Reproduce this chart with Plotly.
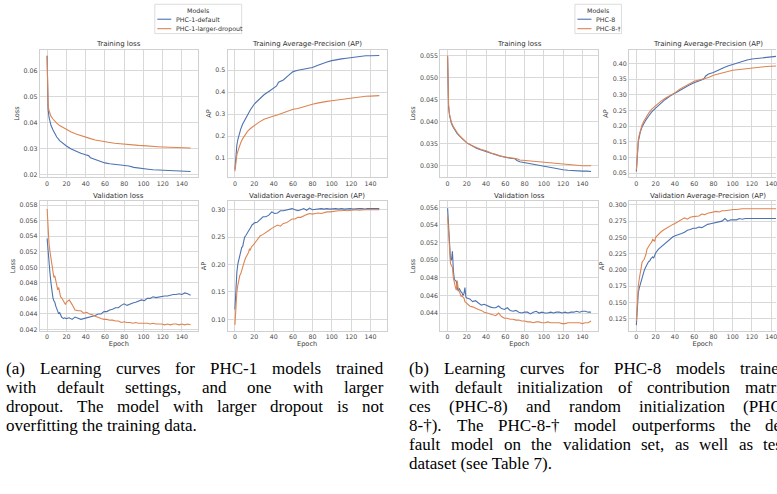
import plotly.graph_objects as go

# ---------------------------------------------------------------- data
MODELS_A = ["PHC-1-default", "PHC-1-larger-dropout"]
MODELS_B = ["PHC-8", "PHC-8-\u2020"]

X_TICKS = [0, 20, 40, 60, 80, 100, 120, 140]

EPOCHS_A_TRAIN = [0, 1, 2, 3, 4, 6, 8, 10, 13, 16, 20, 25, 30, 35, 40, 43, 45, 50, 55, 60,
                  65, 70, 75, 80, 85, 90, 95, 100, 105, 110, 115, 120, 125, 130, 135, 140, 145, 149]
EPOCHS_B_TRAIN = [0, 1, 2, 3, 4, 6, 8, 10, 13, 16, 20, 25, 30, 35, 40, 45, 50, 55, 60, 65,
                  70, 72, 75, 80, 85, 90, 95, 100, 105, 110, 115, 120, 125, 130, 135, 140, 145, 149]
EPOCHS_VAL = list(range(0, 21)) + list(range(23, 150, 3))

# (a) PHC-1
A_TRAIN_LOSS_DEFAULT = [0.0655, 0.0452, 0.0420, 0.0402, 0.0390, 0.0373, 0.0359, 0.0345, 0.0331, 0.0321,
                        0.0311, 0.0299, 0.0290, 0.0283, 0.0277, 0.0274, 0.0266, 0.0259, 0.0251, 0.0246,
                        0.0243, 0.0241, 0.0239, 0.0237, 0.0234, 0.0229, 0.0226, 0.0224, 0.0222, 0.0220,
                        0.0219, 0.0218, 0.0216, 0.0215, 0.0215, 0.0214, 0.0214, 0.0213]
A_TRAIN_LOSS_DROPOUT = [0.0657, 0.0464, 0.0446, 0.0433, 0.0425, 0.0414, 0.0405, 0.0398, 0.0389, 0.0382,
                        0.0373, 0.0364, 0.0357, 0.0350, 0.0344, 0.0341, 0.0339, 0.0334, 0.0330, 0.0327,
                        0.0324, 0.0321, 0.0319, 0.0317, 0.0316, 0.0314, 0.0313, 0.0312, 0.0310, 0.0309,
                        0.0308, 0.0307, 0.0306, 0.0305, 0.0305, 0.0304, 0.0303, 0.0303]
A_TRAIN_AP_DEFAULT = [0.050, 0.120, 0.160, 0.185, 0.203, 0.232, 0.255, 0.272, 0.298, 0.320,
                      0.346, 0.369, 0.388, 0.403, 0.418, 0.428, 0.445, 0.455, 0.475, 0.493,
                      0.499, 0.504, 0.508, 0.512, 0.521, 0.530, 0.537, 0.543, 0.548, 0.551,
                      0.554, 0.557, 0.560, 0.564, 0.565, 0.565, 0.566, 0.566]
A_TRAIN_AP_DROPOUT = [0.041, 0.090, 0.115, 0.131, 0.145, 0.170, 0.189, 0.204, 0.222, 0.235,
                      0.249, 0.264, 0.277, 0.286, 0.292, 0.295, 0.298, 0.306, 0.316, 0.322,
                      0.326, 0.333, 0.339, 0.345, 0.350, 0.355, 0.358, 0.361, 0.364, 0.367,
                      0.371, 0.375, 0.377, 0.379, 0.381, 0.382, 0.384, 0.384]
A_VAL_LOSS_DEFAULT = [0.0537, 0.0517, 0.0505, 0.0492, 0.0480, 0.0466, 0.0461, 0.0457, 0.0455, 0.0450,
                      0.0447, 0.0442, 0.0440, 0.0442, 0.0437, 0.0436, 0.0435, 0.0434, 0.0435, 0.0434,
                      0.0434,
                      0.0435, 0.0433, 0.0436, 0.0434, 0.0433, 0.0434, 0.0435, 0.0436, 0.0437, 0.0438,
                      0.0440, 0.0440, 0.0443, 0.0443, 0.0445, 0.0446, 0.0448, 0.0448, 0.0451, 0.0453,
                      0.0451, 0.0453, 0.0454, 0.0455, 0.0456, 0.0458, 0.0457, 0.0460, 0.0460, 0.0462,
                      0.0461, 0.0462, 0.0462, 0.0463, 0.0463, 0.0464, 0.0465, 0.0465, 0.0466, 0.0465,
                      0.0467, 0.0466, 0.0464]
A_VAL_LOSS_DROPOUT = [0.0575, 0.0546, 0.0530, 0.0520, 0.0512, 0.0504, 0.0496, 0.0487, 0.0489, 0.0481,
                      0.0477, 0.0471, 0.0474, 0.0466, 0.0462, 0.0461, 0.0459, 0.0456, 0.0454, 0.0452,
                      0.0455,
                      0.0458, 0.0452, 0.0445, 0.0444, 0.0444, 0.0441, 0.0442, 0.0440, 0.0439, 0.0437,
                      0.0435, 0.0434, 0.0433, 0.0433, 0.0432, 0.0432, 0.0431, 0.0431, 0.0429, 0.0430,
                      0.0429, 0.0429, 0.0428, 0.0429, 0.0428, 0.0428, 0.0428, 0.0428, 0.0427, 0.0428,
                      0.0427, 0.0427, 0.0427, 0.0426, 0.0427, 0.0426, 0.0427, 0.0427, 0.0426, 0.0427,
                      0.0426, 0.0427, 0.0426]
A_VAL_AP_DEFAULT = [0.118, 0.158, 0.186, 0.201, 0.210, 0.219, 0.228, 0.231, 0.233, 0.244,
                    0.250, 0.252, 0.256, 0.259, 0.261, 0.264, 0.268, 0.270, 0.273, 0.274,
                    0.276,
                    0.277, 0.283, 0.287, 0.287, 0.290, 0.296, 0.293, 0.294, 0.298, 0.298,
                    0.299, 0.300, 0.302, 0.300, 0.298, 0.300, 0.302, 0.299, 0.303, 0.300,
                    0.301, 0.301, 0.302, 0.301, 0.302, 0.301, 0.302, 0.302, 0.301, 0.302,
                    0.301, 0.302, 0.302, 0.301, 0.302, 0.302, 0.302, 0.301, 0.302, 0.302,
                    0.301, 0.302, 0.302]
A_VAL_AP_DROPOUT = [0.090, 0.128, 0.150, 0.162, 0.175, 0.180, 0.183, 0.190, 0.195, 0.205,
                    0.207, 0.212, 0.215, 0.218, 0.222, 0.228, 0.227, 0.232, 0.235, 0.236,
                    0.238,
                    0.245, 0.252, 0.255, 0.258, 0.262, 0.266, 0.269, 0.272, 0.270, 0.275,
                    0.276, 0.280, 0.283, 0.283, 0.286, 0.286, 0.289, 0.291, 0.293, 0.292,
                    0.293, 0.294, 0.293, 0.295, 0.296, 0.296, 0.297, 0.297, 0.298, 0.298,
                    0.299, 0.298, 0.299, 0.299, 0.300, 0.299, 0.300, 0.300, 0.300, 0.300,
                    0.300, 0.299, 0.300]

# (b) PHC-8
B_TRAIN_LOSS_DEFAULT = [0.0548, 0.0433, 0.0414, 0.0403, 0.0396, 0.0387, 0.0379, 0.0373, 0.0366, 0.0360,
                        0.0352, 0.0346, 0.0340, 0.0336, 0.0332, 0.0328, 0.0325, 0.0322, 0.0319, 0.0317,
                        0.0316, 0.0312, 0.0309, 0.0307, 0.0305, 0.0302, 0.0300, 0.0298, 0.0296, 0.0294,
                        0.0292, 0.0291, 0.0290, 0.0289, 0.0289, 0.0288, 0.0288, 0.0287]
B_TRAIN_LOSS_RANDOM = [0.0550, 0.0439, 0.0417, 0.0405, 0.0398, 0.0389, 0.0381, 0.0375, 0.0367, 0.0361,
                       0.0352, 0.0346, 0.0341, 0.0337, 0.0334, 0.0329, 0.0326, 0.0322, 0.0320, 0.0318,
                       0.0317, 0.0316, 0.0313, 0.0312, 0.0310, 0.0309, 0.0308, 0.0307, 0.0306, 0.0305,
                       0.0304, 0.0303, 0.0302, 0.0302, 0.0301, 0.0300, 0.0300, 0.0300]
B_TRAIN_AP_DEFAULT = [0.055, 0.125, 0.150, 0.165, 0.180, 0.198, 0.210, 0.220, 0.233, 0.245,
                      0.257, 0.272, 0.285, 0.296, 0.305, 0.315, 0.324, 0.331, 0.338, 0.345,
                      0.350, 0.360, 0.366, 0.371, 0.377, 0.385, 0.392, 0.397, 0.402, 0.407,
                      0.411, 0.414, 0.416, 0.419, 0.420, 0.421, 0.423, 0.424]
B_TRAIN_AP_RANDOM = [0.060, 0.130, 0.155, 0.172, 0.186, 0.204, 0.217, 0.228, 0.242, 0.254,
                     0.265, 0.278, 0.289, 0.298, 0.306, 0.318, 0.326, 0.334, 0.343, 0.347,
                     0.350, 0.352, 0.355, 0.362, 0.366, 0.371, 0.374, 0.378, 0.380, 0.382,
                     0.384, 0.386, 0.388, 0.389, 0.390, 0.391, 0.391, 0.392]
B_VAL_LOSS_DEFAULT = [0.0559, 0.0533, 0.0518, 0.0501, 0.0500, 0.0510, 0.0488, 0.0478, 0.0477, 0.0476,
                      0.0469, 0.0465, 0.0468, 0.0465, 0.0464, 0.0463, 0.0460, 0.0462, 0.0469, 0.0458,
                      0.0457,
                      0.0456, 0.0453, 0.0454, 0.0451, 0.0449, 0.0450, 0.0448, 0.0447, 0.0446, 0.0446,
                      0.0448, 0.0445, 0.0444, 0.0446, 0.0443, 0.0442, 0.0443, 0.0441, 0.0440, 0.0441,
                      0.0441, 0.0439, 0.0441, 0.0442, 0.0440, 0.0441, 0.0440, 0.0440, 0.0441, 0.0440,
                      0.0441, 0.0441, 0.0440, 0.0441, 0.0440, 0.0441, 0.0441, 0.0442, 0.0441, 0.0442,
                      0.0442, 0.0441, 0.0441]
B_VAL_LOSS_RANDOM = [0.0550, 0.0530, 0.0510, 0.0496, 0.0494, 0.0492, 0.0480, 0.0472, 0.0470, 0.0466,
                     0.0477, 0.0468, 0.0463, 0.0462, 0.0459, 0.0460, 0.0458, 0.0457, 0.0453, 0.0452,
                     0.0450,
                     0.0448, 0.0447, 0.0445, 0.0444, 0.0443, 0.0441, 0.0440, 0.0439, 0.0438, 0.0437,
                     0.0440, 0.0436, 0.0434, 0.0434, 0.0433, 0.0433, 0.0432, 0.0432, 0.0431, 0.0431,
                     0.0430, 0.0430, 0.0429, 0.0430, 0.0430, 0.0429, 0.0429, 0.0430, 0.0429, 0.0429,
                     0.0429, 0.0429, 0.0428, 0.0428, 0.0429, 0.0429, 0.0429, 0.0429, 0.0429, 0.0428,
                     0.0429, 0.0429, 0.0431]
B_VAL_AP_DEFAULT = [0.115, 0.148, 0.165, 0.172, 0.178, 0.184, 0.189, 0.193, 0.198, 0.202,
                    0.206, 0.208, 0.211, 0.213, 0.214, 0.217, 0.219, 0.220, 0.218, 0.224,
                    0.226,
                    0.232, 0.236, 0.240, 0.244, 0.247, 0.251, 0.253, 0.254, 0.256, 0.258,
                    0.261, 0.262, 0.264, 0.264, 0.266, 0.265, 0.268, 0.270, 0.271, 0.272,
                    0.273, 0.274, 0.275, 0.279, 0.275, 0.277, 0.277, 0.277, 0.279, 0.278,
                    0.279, 0.279, 0.280, 0.280, 0.280, 0.279, 0.280, 0.280, 0.280, 0.280,
                    0.280, 0.279, 0.279]
B_VAL_AP_RANDOM = [0.121, 0.160, 0.175, 0.186, 0.196, 0.205, 0.212, 0.214, 0.216, 0.220,
                   0.224, 0.232, 0.235, 0.236, 0.239, 0.241, 0.243, 0.247, 0.246, 0.244,
                   0.250,
                   0.255, 0.259, 0.262, 0.265, 0.267, 0.270, 0.272, 0.275, 0.277, 0.280,
                   0.278, 0.281, 0.282, 0.283, 0.283, 0.286, 0.285, 0.287, 0.288, 0.289,
                   0.290, 0.289, 0.291, 0.291, 0.292, 0.292, 0.293, 0.293, 0.294, 0.294,
                   0.294, 0.294, 0.295, 0.294, 0.295, 0.294, 0.294, 0.294, 0.295, 0.294,
                   0.294, 0.294, 0.294]

Y_TICKS_A_TRAIN_LOSS = [0.02, 0.03, 0.04, 0.05, 0.06]
Y_TICKS_A_TRAIN_AP = [0.1, 0.2, 0.3, 0.4, 0.5]
Y_TICKS_A_VAL_LOSS = [0.042, 0.044, 0.046, 0.048, 0.050, 0.052, 0.054, 0.056, 0.058]
Y_TICKS_A_VAL_AP = [0.10, 0.15, 0.20, 0.25, 0.30]
Y_TICKS_B_TRAIN_LOSS = [0.030, 0.035, 0.040, 0.045, 0.050, 0.055]
Y_TICKS_B_TRAIN_AP = [0.05, 0.10, 0.15, 0.20, 0.25, 0.30, 0.35, 0.40]
Y_TICKS_B_VAL_LOSS = [0.044, 0.046, 0.048, 0.050, 0.052, 0.054, 0.056]
Y_TICKS_B_VAL_AP = [0.125, 0.150, 0.175, 0.200, 0.225, 0.250, 0.275, 0.300]

CAPTION_A = [
    ("(a) Learning curves for PHC-1 models trained", True),
    ("with default settings, and one with larger", True),
    ("dropout. The model with larger dropout is not", True),
    ("overfitting the training data.", False),
]
CAPTION_B = [
    ("(b) Learning curves for PHC-8 models trained", True),
    ("with default initialization of contribution matri-", True),
    ("ces (PHC-8) and random initialization (PHC-", True),
    ("8-\u2020). The PHC-8-\u2020 model outperforms the de-", True),
    ("fault model on the validation set, as well as test", True),
    ("dataset (see Table 7).", False),
]

# ---------------------------------------------------------------- style
W, H = 777, 494
BLUE = "#4C72B0"
ORANGE = "#DD8452"
GRID = "#d9d9d9"
SPINE = "#d0d0d0"
SANS = "DejaVu Sans"
SERIF = "Liberation Serif"
TICK_FONT = dict(family=SANS, size=6.3, color="#4a4a4a")
LABEL_FONT = dict(family=SANS, size=6.6, color="#3a3a3a")
TITLE_FONT = dict(family=SANS, size=7, color="#303030")
X_RANGE = [-7.45, 156.45]


def fx(p):
    return p / W


def fy(p):
    return 1 - p / H


# panel geometry in pixels: (left, right, top, bottom); right column of (b) runs off the page
ROW_TOP = (50, 178)
ROW_BOT = (202, 332)
COLS = {"a_loss": (40, 198), "a_ap": (228, 387), "b_loss": (441, 599), "b_ap": (630, 788)}

PANELS = [
    ("a_loss", ROW_TOP, "Training loss", "Loss", [0.0191, 0.0679], Y_TICKS_A_TRAIN_LOSS, ".2f",
     EPOCHS_A_TRAIN, A_TRAIN_LOSS_DEFAULT, A_TRAIN_LOSS_DROPOUT, MODELS_A),
    ("a_ap", ROW_TOP, "Training Average-Precision (AP)", "AP", [0.0137, 0.592], Y_TICKS_A_TRAIN_AP, ".1f",
     EPOCHS_A_TRAIN, A_TRAIN_AP_DEFAULT, A_TRAIN_AP_DROPOUT, MODELS_A),
    ("a_loss", ROW_BOT, "Validation loss", "Loss", [0.04185, 0.0585], Y_TICKS_A_VAL_LOSS, ".3f",
     EPOCHS_VAL, A_VAL_LOSS_DEFAULT, A_VAL_LOSS_DROPOUT, MODELS_A),
    ("a_ap", ROW_BOT, "Validation Average-Precision (AP)", "AP", [0.0795, 0.3155], Y_TICKS_A_VAL_AP, ".2f",
     EPOCHS_VAL, A_VAL_AP_DEFAULT, A_VAL_AP_DROPOUT, MODELS_A),
    ("b_loss", ROW_TOP, "Training loss", "Loss", [0.0274, 0.0563], Y_TICKS_B_TRAIN_LOSS, ".3f",
     EPOCHS_B_TRAIN, B_TRAIN_LOSS_DEFAULT, B_TRAIN_LOSS_RANDOM, MODELS_B),
    ("b_ap", ROW_TOP, "Training Average-Precision (AP)", "AP", [0.0365, 0.4435], Y_TICKS_B_TRAIN_AP, ".2f",
     EPOCHS_B_TRAIN, B_TRAIN_AP_DEFAULT, B_TRAIN_AP_RANDOM, MODELS_B),
    ("b_loss", ROW_BOT, "Validation loss", "Loss", [0.0420, 0.0567], Y_TICKS_B_VAL_LOSS, ".3f",
     EPOCHS_VAL, B_VAL_LOSS_DEFAULT, B_VAL_LOSS_RANDOM, MODELS_B),
    ("b_ap", ROW_BOT, "Validation Average-Precision (AP)", "AP", [0.1065, 0.3057], Y_TICKS_B_VAL_AP, ".3f",
     EPOCHS_VAL, B_VAL_AP_DEFAULT, B_VAL_AP_RANDOM, MODELS_B),
]

fig = go.Figure()
layout = dict(
    width=W, height=H, margin=dict(l=0, r=0, t=0, b=0),
    paper_bgcolor="white", plot_bgcolor="white", showlegend=False,
    font=dict(family=SANS, size=7, color="#333"),
)
annotations = []
shapes = []

for i, (col, (top, bottom), title, ylabel, yrange, yticks, yfmt, epochs, s1, s2, names) in enumerate(PANELS, 1):
    left, right = COLS[col]
    clipped = right > W
    vis_right = min(right, W)
    # keep the data scale of the full-width panel while only the visible part fits on the page
    x_span = X_RANGE[1] - X_RANGE[0]
    x_range = [X_RANGE[0], X_RANGE[0] + x_span * (vis_right - left) / (right - left)]
    sfx = "" if i == 1 else str(i)
    layout["xaxis" + sfx] = dict(
        domain=[fx(left), fx(vis_right)], range=x_range, anchor="y" + sfx,
        tickvals=X_TICKS, ticks="", showgrid=True, gridcolor=GRID, gridwidth=1,
        zeroline=False, showline=True, linecolor=SPINE, linewidth=1.2, mirror=True,
        tickfont=TICK_FONT, ticklabeloverflow="allow",
        title=dict(text="Epoch" if top == ROW_BOT[0] else "", font=LABEL_FONT, standoff=1),
    )
    layout["yaxis" + sfx] = dict(
        domain=[fy(bottom), fy(top)], range=yrange, anchor="x" + sfx,
        tickvals=yticks, tickformat=yfmt, ticks="", showgrid=True, gridcolor=GRID, gridwidth=1,
        zeroline=False, showline=True, linecolor=SPINE, linewidth=1.2, mirror=not clipped,
        tickfont=TICK_FONT,
        title=dict(text=ylabel, font=LABEL_FONT, standoff=3),
    )
    for series, color, name in ((s1, BLUE, names[0]), (s2, ORANGE, names[1])):
        fig.add_trace(go.Scatter(
            x=epochs, y=series, mode="lines", name=name,
            line=dict(color=color, width=1.1),
            xaxis="x" + sfx, yaxis="y" + sfx, showlegend=False,
        ))
    annotations.append(dict(
        text=title, x=fx((left + right) / 2), y=fy(top - 5.5), xref="paper", yref="paper",
        xanchor="center", yanchor="middle", showarrow=False, font=TITLE_FONT,
    ))


# legends, one per group of panels
def add_legend(box, names, colors):
    x0, x1, y0, y1 = box
    shapes.append(dict(type="rect", xref="paper", yref="paper",
                       x0=fx(x0), x1=fx(x1), y0=fy(y1), y1=fy(y0),
                       line=dict(color="#d4d4d4", width=0.8), fillcolor="white", layer="above"))
    annotations.append(dict(text="Models", x=fx((x0 + x1) / 2), y=fy(y0 + 6), xref="paper", yref="paper",
                            xanchor="center", yanchor="middle", showarrow=False,
                            font=dict(family=SANS, size=6.3, color="#333")))
    for k, (name, color) in enumerate(zip(names, colors)):
        yy = y0 + 15 + 9.5 * k
        shapes.append(dict(type="line", xref="paper", yref="paper",
                           x0=fx(x0 + 2.5), x1=fx(x0 + 16.5), y0=fy(yy), y1=fy(yy),
                           line=dict(color=color, width=1.1), layer="above"))
        annotations.append(dict(text=name, x=fx(x0 + 19), y=fy(yy), xref="paper", yref="paper",
                                xanchor="left", yanchor="middle", showarrow=False,
                                font=dict(family=SANS, size=6.3, color="#333")))


add_legend((155, 242, 4.3, 33.7), MODELS_A, [BLUE, ORANGE])
add_legend((575.7, 622.3, 4.3, 33.7), MODELS_B, [BLUE, ORANGE])

# justified captions set in a Times-metric serif
CHAR_EM = {" ": 0.25, "(": 0.333, ")": 0.333, "-": 0.333, ",": 0.25, ".": 0.25, "\u2020": 0.5,
           "C": 0.667, "H": 0.722, "L": 0.611, "P": 0.556, "T": 0.611,
           "a": 0.444, "b": 0.5, "c": 0.444, "d": 0.5, "e": 0.444, "f": 0.333, "g": 0.5, "h": 0.5,
           "i": 0.278, "j": 0.278, "k": 0.5, "l": 0.278, "m": 0.778, "n": 0.5, "o": 0.5, "p": 0.5,
           "q": 0.5, "r": 0.333, "s": 0.389, "t": 0.278, "u": 0.5, "v": 0.5, "w": 0.722, "x": 0.5,
           "y": 0.5, "z": 0.444}
CAP_SIZE = 17
CAP_FONT = dict(family=SERIF, size=CAP_SIZE, color="#000")


def word_width(word):
    return sum(CHAR_EM.get(c, 0.5) for c in word) * CAP_SIZE


def add_caption(lines, left, width, first_y, step):
    for n, (line, justify) in enumerate(lines):
        y = first_y + n * step
        if not justify:
            annotations.append(dict(text=line, x=fx(left), y=fy(y), xref="paper", yref="paper",
                                    xanchor="left", yanchor="middle", showarrow=False,
                                    font=CAP_FONT, borderpad=0))
            continue
        words = line.split(" ")
        total = sum(word_width(w) for w in words)
        gap = (width - total) / (len(words) - 1)
        x = left
        for w in words:
            annotations.append(dict(text=w, x=fx(x), y=fy(y), xref="paper", yref="paper",
                                    xanchor="left", yanchor="middle", showarrow=False,
                                    font=CAP_FONT, borderpad=0))
            x += word_width(w) + gap


add_caption(CAPTION_A, 5, 378, 370, 19)
add_caption(CAPTION_B, 409, 378, 370, 19)

layout["annotations"] = annotations
layout["shapes"] = shapes
fig.update_layout(**layout)
fig.write_html("out.html")
